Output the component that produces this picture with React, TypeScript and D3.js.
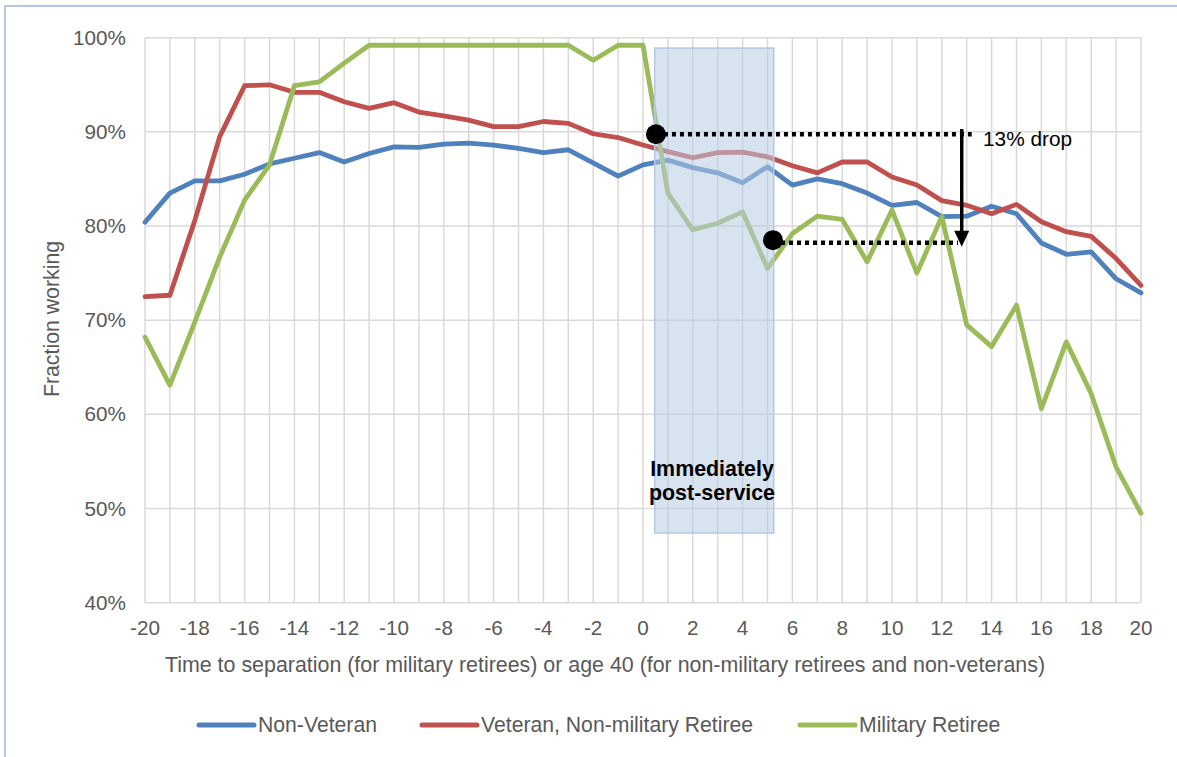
import React from "react";
import * as d3 from "d3";

const xValues: number[] = d3.range(-20, 21);
const yTicks: number[] = [40, 50, 60, 70, 80, 90, 100];
const xTicks: number[] = d3.range(-20, 21, 2);

const nonVeteran: number[] = [80.4, 83.5, 84.8, 84.8, 85.5, 86.6, 87.2, 87.8, 86.8, 87.7, 88.4, 88.35, 88.7, 88.8, 88.6, 88.25, 87.8, 88.1, 86.7, 85.3, 86.5, 87.0, 86.2, 85.65, 84.6, 86.3, 84.35, 85.0, 84.5, 83.5, 82.2, 82.5, 81.0, 81.05, 82.1, 81.3, 78.2, 77.0, 77.25, 74.4, 72.9];
const veteranNonRetiree: number[] = [72.5, 72.65, 80.6, 89.5, 94.9, 95.0, 94.2, 94.2, 93.2, 92.5, 93.1, 92.1, 91.7, 91.25, 90.55, 90.55, 91.1, 90.9, 89.8, 89.4, 88.6, 87.9, 87.25, 87.8, 87.85, 87.35, 86.4, 85.65, 86.8, 86.8, 85.2, 84.35, 82.7, 82.2, 81.3, 82.3, 80.45, 79.4, 78.9, 76.55, 73.7];
const militaryRetiree: number[] = [68.2, 63.1, 69.8, 76.7, 82.75, 86.5, 94.9, 95.3, 97.3, 99.2, 99.2, 99.2, 99.2, 99.2, 99.2, 99.2, 99.2, 99.2, 97.6, 99.2, 99.2, 83.5, 79.6, 80.3, 81.5, 75.5, 79.2, 81.05, 80.7, 76.2, 81.7, 75.0, 81.0, 69.5, 67.2, 71.6, 60.6, 67.7, 62.2, 54.4, 49.5];

const seriesNames: string[] = ["Non-Veteran", "Veteran, Non-military Retiree", "Military Retiree"];
const seriesColors: string[] = ["#4F81BD", "#C0504D", "#9BBB59"];
const seriesData: number[][] = [nonVeteran, veteranNonRetiree, militaryRetiree];

// annotation values (data units)
const shadeX: [number, number] = [0.47, 5.25];
const shadeY: [number, number] = [98.9, 47.4];
const dropStart = { x: 0.52, y: 89.75, lineEnd: 13.2 };
const dropEnd = { x: 5.22, y: 78.5, lineEnd: 12.65 };
const arrow = { x: 12.8, y0: 90.3, y1: 77.8 };
const dropLabel = "13% drop";
const shadeLabel = ["Immediately", "post-service"];

const W = 1177;
const H = 757;
const FONT = "'Liberation Sans', Arial, sans-serif";

export default function App() {
  const x = d3.scaleLinear().domain([-20, 20]).range([145, 1141]);
  const y = d3.scaleLinear().domain([40, 100]).range([602.7, 37.7]);

  const line = d3
    .line<number>()
    .x((_, i) => x(xValues[i]))
    .y((d) => y(d));

  const legendX = [199, 422, 800];

  return (
    <div style={{ position: "absolute", left: 0, top: 0 }}>
      <svg width={W} height={H} style={{ display: "block", fontFamily: FONT }}>
        <rect x={0} y={0} width={W} height={H} fill="#ffffff" />
        {/* chart border */}
        <path d={`M5,${H} L5,6 L${W},6`} fill="none" stroke="#B4C7E7" strokeWidth={2} />

        {/* grid */}
        {xValues.map((v) => (
          <line key={"vx" + v} x1={x(v)} x2={x(v)} y1={y(100)} y2={y(40)} stroke="#D9D9D9" strokeWidth={1.5} />
        ))}
        {yTicks.map((v) => (
          <line key={"hy" + v} x1={x(-20)} x2={x(20)} y1={y(v)} y2={y(v)} stroke="#D9D9D9" strokeWidth={1.5} />
        ))}

        {/* y tick labels */}
        {yTicks.map((v) => (
          <text key={"yt" + v} x={126} y={y(v) + 7} textAnchor="end" fontSize={20.7} fill="#595959">
            {v}%
          </text>
        ))}
        {/* x tick labels */}
        {xTicks.map((v) => (
          <text key={"xt" + v} x={x(v)} y={635} textAnchor="middle" fontSize={20.7} fill="#595959">
            {v}
          </text>
        ))}

        {/* axis titles */}
        <text x={605} y={672} textAnchor="middle" fontSize={21.4} fill="#595959">
          Time to separation (for military retirees) or age 40 (for non-military retirees and non-veterans)
        </text>
        <text transform="translate(59,319) rotate(-90)" textAnchor="middle" fontSize={21.3} fill="#595959">
          Fraction working
        </text>

        {/* series */}
        {seriesData.map((s, i) => (
          <path key={"s" + i} d={line(s) || ""} fill="none" stroke={seriesColors[i]} strokeWidth={4.8} strokeLinejoin="round" strokeLinecap="round" />
        ))}

        {/* shaded post-service box */}
        <rect
          x={x(shadeX[0])}
          y={y(shadeY[0])}
          width={x(shadeX[1]) - x(shadeX[0])}
          height={y(shadeY[1]) - y(shadeY[0])}
          fill="#B8CCE4"
          fillOpacity={0.55}
          stroke="#B4C7E7"
          strokeWidth={1.5}
        />
        {shadeLabel.map((t, i) => (
          <text key={"sl" + i} x={712} y={476 + i * 24} textAnchor="middle" fontSize={21.4} fontWeight="bold" fill="#000">
            {t}
          </text>
        ))}

        {/* dotted lines */}
        <line x1={x(dropStart.x)} x2={x(dropStart.lineEnd)} y1={y(dropStart.y)} y2={y(dropStart.y)} stroke="#000" strokeWidth={4.5} strokeDasharray="4 4" />
        <line x1={x(dropEnd.x)} x2={x(dropEnd.lineEnd)} y1={y(dropEnd.y) + 2.5} y2={y(dropEnd.y) + 2.5} stroke="#000" strokeWidth={4.5} strokeDasharray="4 4" />
        <circle cx={x(dropStart.x)} cy={y(dropStart.y)} r={10} fill="#000" />
        <circle cx={x(dropEnd.x)} cy={y(dropEnd.y)} r={10} fill="#000" />

        {/* arrow */}
        <line x1={x(arrow.x)} x2={x(arrow.x)} y1={y(arrow.y0)} y2={y(arrow.y1) - 12} stroke="#000" strokeWidth={3.5} />
        <path
          d={`M${x(arrow.x) - 7.5},${y(arrow.y1) - 16} L${x(arrow.x) + 7.5},${y(arrow.y1) - 16} L${x(arrow.x)},${y(arrow.y1)} Z`}
          fill="#000"
        />
        <text x={983} y={146} fontSize={20.8} fill="#000">
          {dropLabel}
        </text>

        {/* legend */}
        {seriesNames.map((n, i) => (
          <g key={"lg" + i}>
            <line x1={legendX[i]} x2={legendX[i] + 55} y1={725} y2={725} stroke={seriesColors[i]} strokeWidth={5} strokeLinecap="round" />
            <text x={legendX[i] + 59} y={732} fontSize={21.2} fill="#595959">
              {n}
            </text>
          </g>
        ))}
      </svg>
    </div>
  );
}
